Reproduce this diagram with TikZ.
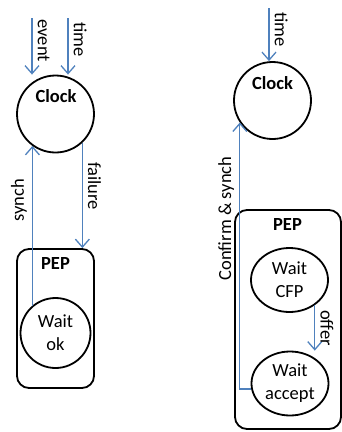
\documentclass[tikz,border=0pt]{standalone}
\usepackage{fontspec}
\setmainfont{Carlito}
\usetikzlibrary{arrows.meta,shapes.geometric}
\definecolor{arrowblue}{RGB}{79,129,189}

\begin{document}
\fontsize{18.5}{23}\selectfont
\begin{tikzpicture}[x=1pt,y=-1pt]
\tikzset{state/.style = {shape=circle,draw,line width=1.8pt,inner sep=0pt,align=center}}
\tikzset{wait/.style = {shape=ellipse,draw,line width=1.8pt,inner sep=0pt,
minimum width=77pt,minimum height=64pt,align=center}}
\tikzset{agent/.style = {draw,line width=1.8pt,rounded corners=12pt}}
\tikzset{title/.style = {font=\bfseries}}
\tikzset{edge/.style = {draw=arrowblue,line width=1.3pt,-{Straight Barb[length=8pt,width=14pt]}}}
\tikzset{lbl/.style = {sloped,above,inner sep=5pt}}
\useasboundingbox (0,0) rectangle (342,432);
% vertices
\node[state,minimum size=77pt] (clockA) at (55.5,114) {};
\node[title] (clockAt) at (56,96) {Clock};
\node[agent,minimum width=77pt,minimum height=139pt] (pepA) at (55.5,318.5) {};
\node[title] (pepAt) at (55.5,263) {PEP};
\node[state,minimum size=70pt] (waitok) at (55.5,333) {Wait\\ok};

\node[state,minimum size=77pt] (clockB) at (272.5,100.5) {};
\node[title] (clockBt) at (272.5,83) {Clock};
\node[agent,minimum width=106pt,minimum height=219pt] (pepB) at (288,319.5) {};
\node[title] (pepBt) at (287.5,224) {PEP};
\node[wait] (waitcfp) at (289.5,280) {Wait\\CFP};
\node[wait] (waitacc) at (290,383.5) {Wait\\accept};
% inputs
\coordinate (event) at (32,18);
\coordinate (timeA) at (68,18);
\coordinate (timeB) at (269,8);
%edges
\draw[edge] (event) -- node[lbl,pos=0.4] {event} (event |- clockA.north);
\draw[edge] (timeA) -- node[lbl,pos=0.38] {time} (timeA |- clockA.north);
\draw[edge] (waitok.130) -- node[lbl,pos=0.66] {synch} (waitok.130 |- clockA.234);
\draw[edge] (clockA.313) -- node[lbl,pos=0.41] {failure} (clockA.313 |- pepA.north);
\draw[edge] (timeB) -- node[lbl,pos=0.41] {time} (timeB |- clockB.north);
\draw[edge] (waitacc.188) -| node[lbl,pos=0.82] {Confirm \& synch} (clockB.214);
\draw[edge] (waitcfp.-45) -- node[lbl] {offer} (waitcfp.-45 |- waitacc.north);
\end{tikzpicture}
\end{document}
